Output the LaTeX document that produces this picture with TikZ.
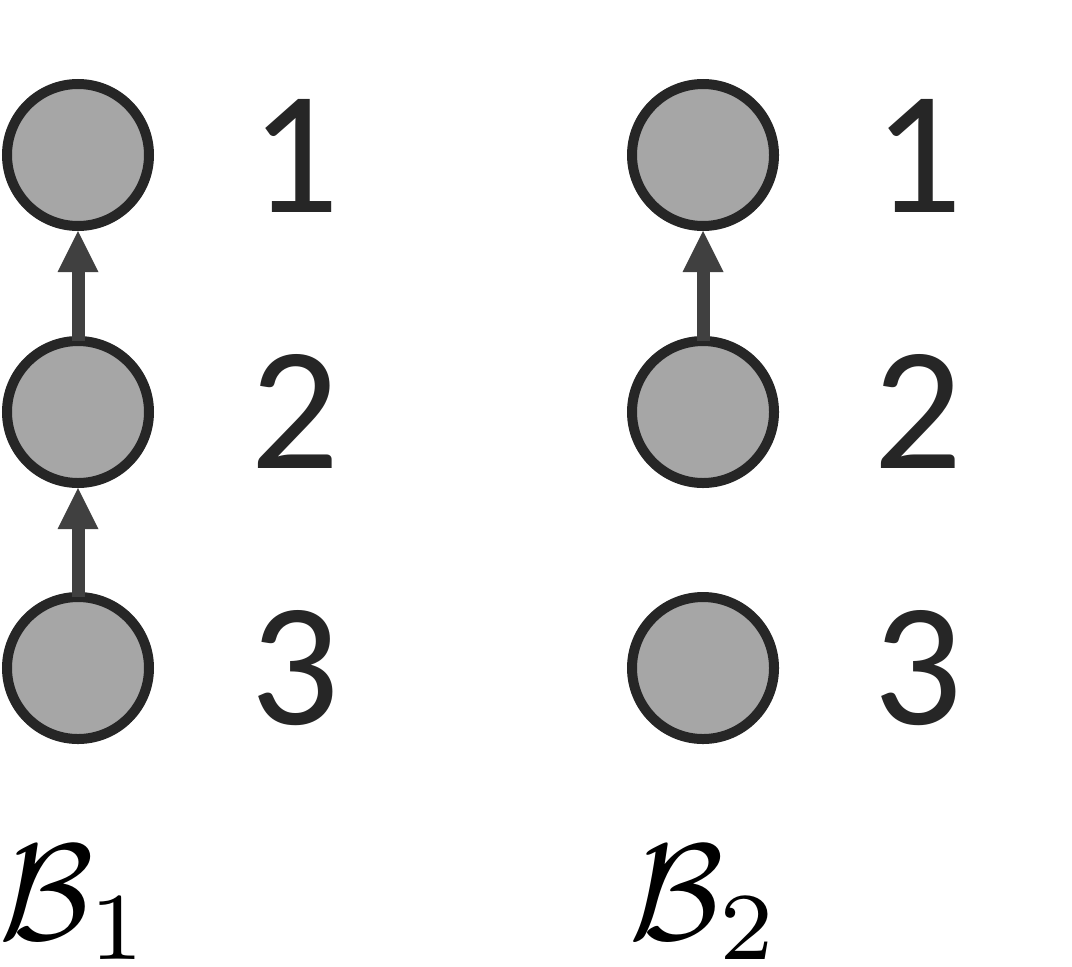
\documentclass[tikz,border=0pt]{standalone}
\usepackage{fontspec}
\usepackage{graphicx}
\newfontfamily\numfont{Carlito}
\usetikzlibrary{arrows.meta}
\definecolor{ballfill}{HTML}{A6A6A6}
\definecolor{balledge}{HTML}{262626}
\definecolor{linkcol}{HTML}{404040}
\newcommand{\blabtext}[1]{\scalebox{3.9}{$\mathcal{B}_{#1}$}}
\begin{document}
\begin{tikzpicture}[ball/.style={circle,draw=balledge,fill=ballfill,line width=0.1cm,minimum size=1.42cm,inner sep=0pt},
		num/.style={text=balledge,font=\numfont\fontsize{50}{60}\selectfont,inner sep=0pt},
		link/.style={draw=linkcol,line width=0.13cm,shorten <=-0.05cm,-{Triangle[width=0.41cm,length=0.41cm,line width=0pt]}},
		blab/.style={anchor=base,inner sep=0pt}]
			\useasboundingbox (0,0) rectangle (10.72,9.66);
			\node[ball] (a1) at (0.78,8.11) {};
			\node[ball] (a2) at (0.78,5.54) {};
			\node[ball] (a3) at (0.78,2.98) {};
			\node[ball] (b1) at (7.03,8.11) {};
			\node[ball] (b2) at (7.03,5.54) {};
			\node[ball] (b3) at (7.03,2.98) {};
			\draw[link] (a2) -- (a1);
			\draw[link] (a3) -- (a2);
			\draw[link] (b2) -- (b1);
			\node[num] (na1) at (2.95,8.10) {1};
			\node[num] (na2) at (2.95,5.55) {2};
			\node[num] (na3) at (2.95,2.98) {3};
			\node[num] (nb1) at (9.18,8.10) {1};
			\node[num] (nb2) at (9.18,5.55) {2};
			\node[num] (nb3) at (9.18,2.98) {3};
			\node[blab] (B1) at (0.75,0.27) {\blabtext{1}};
			\node[blab] (B2) at (7.05,0.27) {\blabtext{2}};
		\end{tikzpicture}
\end{document}
